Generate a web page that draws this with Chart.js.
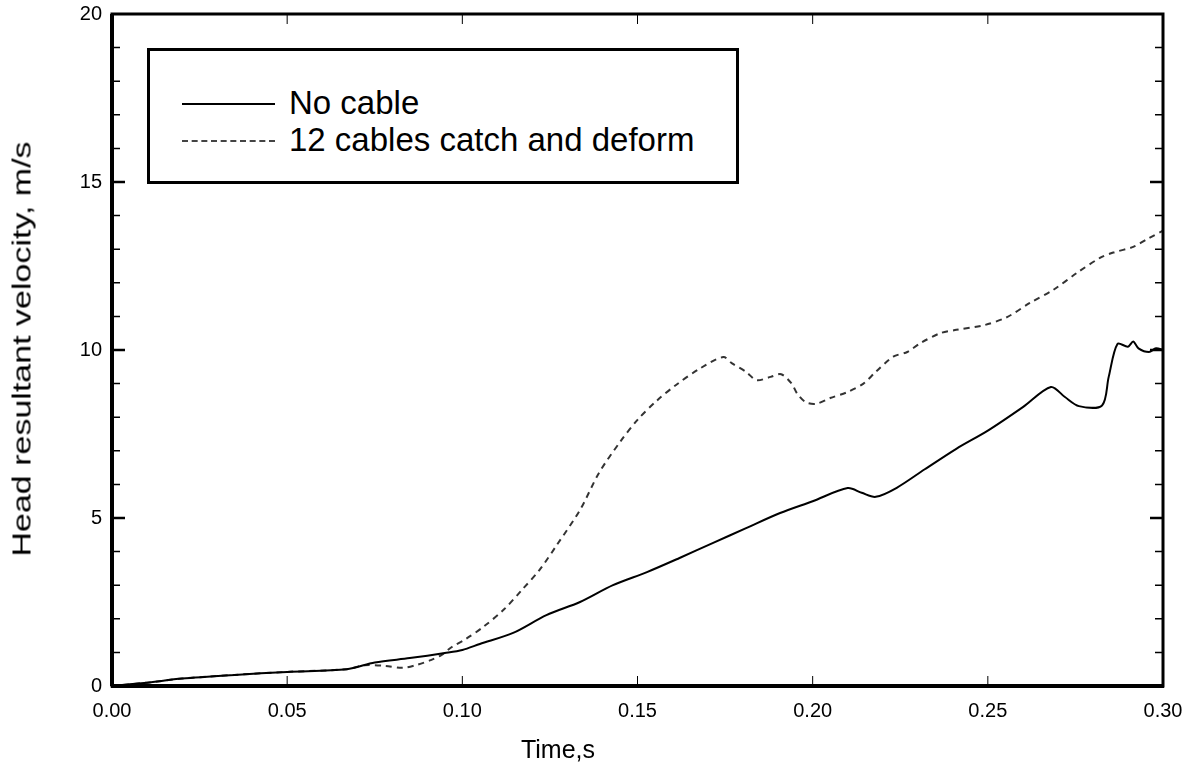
<!DOCTYPE html>
<html>
<head>
<meta charset="utf-8">
<script src="https://cdn.jsdelivr.net/npm/chart.js@4.4.1/dist/chart.umd.min.js"></script>
<style>
  body { margin: 0; background: #fff; }
  #wrap { position: relative; width: 1196px; height: 769px; font-family: "Liberation Sans", Arial, sans-serif; color: #000; }
  #legendBox {
    position: absolute; left: 147px; top: 48px; width: 586px; height: 130px;
    border: 3px solid #000; background: #fff; font-size: 33px;
  }
  .row { position: absolute; left: 0; height: 36px; line-height: 36px; white-space: nowrap; }
  .sample { position: absolute; left: 32px; width: 93px; top: 18px; }
  .row span { position: absolute; left: 139px; top: 0; }
  #xTitle { position: absolute; left: 558px; top: 735px; transform: translateX(-50%); font-size: 25px; white-space: nowrap; }
  #yTitle { position: absolute; left: 22px; top: 349px; font-size: 25px; white-space: nowrap;
            transform: translate(-50%, -50%) rotate(-90deg) scaleX(1.36); }
</style>
</head>
<body>
<div id="wrap">
  <canvas id="myChart" width="1196" height="769"></canvas>
  <div id="legendBox">
    <div class="row" style="top:34px"><div class="sample" style="border-top:2px solid #000"></div><span>No cable</span></div>
    <div class="row" style="top:71px"><div class="sample" style="border-top:2px dashed #444"></div><span>12 cables catch and deform</span></div>
  </div>
  <div id="xTitle">Time,s</div>
  <div id="yTitle">Head resultant velocity, m/s</div>
</div>
<script>
// values
const timeNoCable = [0, 0.01, 0.02, 0.035, 0.05, 0.067, 0.075, 0.085, 0.095, 0.10, 0.105, 0.1145, 0.124, 0.1336, 0.143, 0.1527, 0.162, 0.1716, 0.181, 0.1907, 0.20, 0.21, 0.214, 0.218, 0.224, 0.232, 0.241, 0.25, 0.26, 0.268, 0.272, 0.276, 0.2826, 0.2845, 0.287, 0.29, 0.2915, 0.293, 0.296, 0.298, 0.30];
const velNoCable  = [0, 0.1, 0.22, 0.33, 0.42, 0.5, 0.7, 0.83, 0.98, 1.07, 1.25, 1.58, 2.11, 2.5, 3.0, 3.39, 3.81, 4.26, 4.7, 5.15, 5.5, 5.89, 5.75, 5.63, 5.9, 6.45, 7.06, 7.6, 8.3, 8.9, 8.6, 8.33, 8.35, 9.2, 10.18, 10.1, 10.25, 10.05, 9.94, 10.05, 10.0];

const timeCables = [0, 0.01, 0.02, 0.035, 0.05, 0.067, 0.072, 0.078, 0.083, 0.087, 0.091, 0.094, 0.097, 0.101, 0.106, 0.112, 0.117, 0.122, 0.127, 0.1336, 0.139, 0.145, 0.15, 0.1556, 0.161, 0.168, 0.1745, 0.177, 0.181, 0.184, 0.188, 0.191, 0.194, 0.1956, 0.198, 0.201, 0.205, 0.21, 0.2145, 0.218, 0.223, 0.227, 0.2307, 0.2364, 0.241, 0.249, 0.2555, 0.262, 0.2687, 0.2755, 0.282, 0.2858, 0.2915, 0.296, 0.30];
const velCables  = [0, 0.1, 0.22, 0.33, 0.42, 0.5, 0.62, 0.6, 0.54, 0.63, 0.77, 0.92, 1.16, 1.4, 1.76, 2.29, 2.86, 3.45, 4.2, 5.24, 6.34, 7.26, 7.92, 8.5, 8.96, 9.46, 9.79, 9.6, 9.35, 9.1, 9.2, 9.28, 9.0, 8.7, 8.45, 8.4, 8.57, 8.75, 9.0, 9.35, 9.8, 9.94, 10.2, 10.5, 10.6, 10.74, 10.98, 11.4, 11.79, 12.3, 12.74, 12.9, 13.07, 13.33, 13.55];

const xTicks = [0, 0.05, 0.10, 0.15, 0.20, 0.25, 0.30];
const yMajorTicks = [0, 5, 10, 15, 20];

const FONT = '"Liberation Sans", Arial, sans-serif';

function toPoints(xs, ys) {
    return xs.map((x, i) => ({ x: x, y: ys[i] }));
}

// frame and inward ticks
const framePlugin = {
    id: 'frame',
    afterDraw(chart) {
        const ctx = chart.ctx;
        const a = chart.chartArea;
        const xs = chart.scales.x, ys = chart.scales.y;
        ctx.save();
        ctx.strokeStyle = '#000';
        for (let v = 1; v < 20; v++) {
            const py = ys.getPixelForValue(v);
            const len = v % 5 === 0 ? 13 : 8;
            ctx.lineWidth = v % 5 === 0 ? 2.5 : 1.5;
            ctx.beginPath();
            ctx.moveTo(a.left, py); ctx.lineTo(a.left + len, py);
            ctx.moveTo(a.right, py); ctx.lineTo(a.right - len, py);
            ctx.stroke();
        }
        ctx.lineWidth = 1;
        xTicks.slice(1, -1).forEach(t => {
            const px = xs.getPixelForValue(t);
            ctx.beginPath();
            ctx.moveTo(px, a.bottom); ctx.lineTo(px, a.bottom - 10);
            ctx.moveTo(px, a.top); ctx.lineTo(px, a.top + 10);
            ctx.stroke();
        });
        ctx.lineWidth = 3;
        ctx.strokeRect(a.left, a.top, a.right - a.left, a.bottom - a.top);
        ctx.lineWidth = 4;
        ctx.beginPath();
        ctx.moveTo(a.left - 1, a.bottom); ctx.lineTo(a.right + 1, a.bottom);
        ctx.moveTo(a.left, a.top); ctx.lineTo(a.left, a.bottom);
        ctx.stroke();
        ctx.restore();
    }
};

const ctx = document.getElementById('myChart').getContext('2d');
window.myChart = new Chart(ctx, {
    type: 'line',
    data: {
        datasets: [{
            label: 'No cable',
            data: toPoints(timeNoCable, velNoCable),
            borderColor: '#000',
            borderWidth: 2,
            pointRadius: 0,
            tension: 0.3
        }, {
            label: '12 cables catch and deform',
            data: toPoints(timeCables, velCables),
            borderColor: '#333',
            borderWidth: 2,
            borderDash: [6, 5],
            pointRadius: 0,
            tension: 0.3
        }]
    },
    options: {
        responsive: false,
        animation: false,
        layout: { padding: { top: 14, right: 33, left: 0, bottom: 0 }, autoPadding: false },
        plugins: { legend: { display: false }, tooltip: { enabled: false } },
        scales: {
            x: {
                type: 'linear',
                min: 0, max: 0.30,
                grid: { display: false, drawTicks: false },
                border: { display: false },
                afterBuildTicks: s => { s.ticks = xTicks.map(v => ({ value: v })); },
                afterFit: s => { s.height = 83; s.paddingLeft = 0; s.paddingRight = 0; },
                ticks: {
                    color: '#000', padding: 13,
                    font: { family: FONT, size: 20 },
                    maxRotation: 0,
                    callback: v => v.toFixed(2)
                }
            },
            y: {
                min: 0, max: 20,
                grid: { display: false, drawTicks: false },
                border: { display: false },
                afterBuildTicks: s => { s.ticks = yMajorTicks.map(v => ({ value: v })); },
                afterFit: s => { s.width = 112; s.paddingTop = 0; s.paddingBottom = 0; },
                ticks: {
                    color: '#000', padding: 10,
                    font: { family: FONT, size: 20 }
                }
            }
        }
    },
    plugins: [framePlugin]
});
</script>
</body>
</html>
